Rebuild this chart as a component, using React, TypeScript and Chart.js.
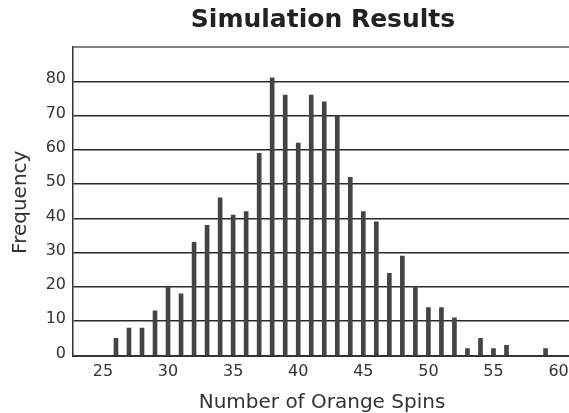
import React, { useEffect, useRef } from 'react';
import { Chart, registerables } from 'chart.js';

Chart.register(...registerables);

const spins = [26, 27, 28, 29, 30, 31, 32, 33, 34, 35, 36, 37, 38, 39, 40, 41, 42, 43, 44, 45, 46, 47, 48, 49, 50, 51, 52, 53, 54, 55, 56, 59];
const frequencies = [5, 8, 8, 13, 20, 18, 33, 38, 46, 41, 42, 59, 81, 76, 62, 76, 74, 70, 52, 42, 39, 24, 29, 20, 14, 14, 11, 2, 5, 2, 3, 2];
const xTickValues = [25, 30, 35, 40, 45, 50, 55, 60];
const yTickValues = [0, 10, 20, 30, 40, 50, 60, 70, 80, 90];
const yTickLabels = ['0', '10', '20', '30', '40', '50', '60', '70', '80', ''];
const chartTitle = 'Simulation Results';
const xTitle = 'Number of Orange Spins';
const yTitle = 'Frequency';

const FONT = '"DejaVu Sans", Verdana, sans-serif';

const titlePlugin = {
  id: 'manualTitles',
  afterDraw(chart: any) {
    const { ctx, chartArea } = chart;
    const cx = (chartArea.left + chartArea.right) / 2;
    const cy = (chartArea.top + chartArea.bottom) / 2;
    ctx.save();
    ctx.textAlign = 'center';
    ctx.textBaseline = 'alphabetic';
    ctx.fillStyle = '#222';
    ctx.font = `bold 25px ${FONT}`;
    ctx.fillText(chartTitle, cx + 2, 27);
    ctx.fillStyle = '#333';
    ctx.font = `20px ${FONT}`;
    ctx.fillText(xTitle, cx + 1, 408);
    ctx.translate(26, cy + 1);
    ctx.rotate(-Math.PI / 2);
    ctx.fillText(yTitle, 0, 0);
    ctx.restore();
  },
};

export default function App() {
  const canvasRef = useRef<HTMLCanvasElement | null>(null);

  useEffect(() => {
    const canvas = canvasRef.current;
    if (!canvas) return;
    const chart = new Chart(canvas, {
      type: 'bar',
      data: {
        datasets: [
          {
            data: spins.map((s, i) => ({ x: s, y: frequencies[i] })),
            backgroundColor: '#444444',
            borderWidth: 0,
            barThickness: 4,
            grouped: false,
          } as any,
        ],
      },
      plugins: [titlePlugin],
      options: {
        responsive: false,
        animation: false,
        devicePixelRatio: 1,
        layout: { padding: { top: 47, left: 0, right: 0, bottom: 0 } },
        plugins: {
          legend: { display: false },
          title: { display: false },
          tooltip: { enabled: false },
        },
        scales: {
          x: {
            type: 'linear',
            min: 22.7,
            max: 60.8,
            offset: false,
            grid: { display: false, drawTicks: false },
            border: { display: true, color: '#333', width: 2 },
            ticks: {
              font: { family: FONT, size: 16 },
              color: '#333',
              padding: 7,
              maxRotation: 0,
              autoSkip: false,
              callback: (v: any) => String(v),
            },
            afterBuildTicks: (scale: any) => {
              scale.ticks = xTickValues.map((v) => ({ value: v }));
            },
            afterFit: (scale: any) => {
              scale.height = 57.5;
              scale.paddingLeft = 0;
              scale.paddingRight = 0;
            },
          } as any,
          y: {
            type: 'linear',
            min: 0,
            max: 90,
            grid: {
              drawTicks: false,
              color: (c: any) => (c.tick && c.tick.value === 90 ? '#808080' : '#2a2a2a'),
              lineWidth: (c: any) => (c.tick && c.tick.value === 90 ? 2 : 1.5),
            },
            border: { display: true, color: '#333', width: 1.5 },
            ticks: {
              font: { family: FONT, size: 16 },
              color: '#333',
              padding: 7,
              labelOffset: -2,
              autoSkip: false,
              callback: (v: any) => {
                const i = yTickValues.indexOf(Number(v));
                return i >= 0 ? yTickLabels[i] : '';
              },
            },
            afterBuildTicks: (scale: any) => {
              scale.ticks = yTickValues.map((v) => ({ value: v }));
            },
            afterFit: (scale: any) => {
              scale.width = 73;
              scale.paddingTop = 0;
              scale.paddingBottom = 0;
            },
          } as any,
        },
      },
    });
    return () => chart.destroy();
  }, []);

  return (
    <div style={{ position: 'fixed', left: 0, top: 0, width: 569, height: 413, background: '#fff' }}>
      <canvas ref={canvasRef} width={569} height={413} style={{ width: 569, height: 413, display: 'block' }} />
    </div>
  );
}
